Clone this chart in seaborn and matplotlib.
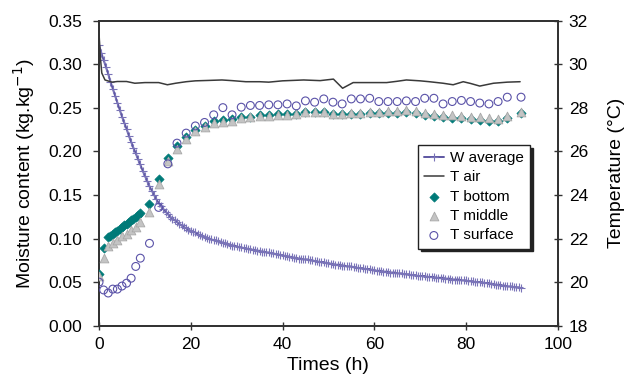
import numpy as np
import pandas as pd
import matplotlib
matplotlib.use("Agg")
import matplotlib.pyplot as plt
import seaborn as sns

sns.set_style("ticks")
plt.rcParams['font.family'] = ['Liberation Sans', 'DejaVu Sans']
plt.rcParams['text.color'] = 'black'
plt.rcParams['axes.labelcolor'] = 'black'
plt.rcParams['xtick.color'] = '#333333'
plt.rcParams['ytick.color'] = '#333333'
plt.rcParams['xtick.labelcolor'] = 'black'
plt.rcParams['ytick.labelcolor'] = 'black'

# ---------------- data ----------------
# average moisture content, every 0.5 h from 0 to 92 h
w_time = np.arange(0, 92.5, 0.5)
w_average = [
    0.322, 0.313, 0.305, 0.297, 0.289, 0.280, 0.272, 0.264, 0.256, 0.248,
    0.240, 0.233, 0.226, 0.218, 0.211, 0.204, 0.198, 0.191, 0.185, 0.178,
    0.172, 0.166, 0.160, 0.155, 0.150, 0.145, 0.141, 0.137, 0.134, 0.131,
    0.128, 0.125, 0.123, 0.121, 0.119, 0.117, 0.115, 0.113, 0.112, 0.110,
    0.109, 0.108, 0.107, 0.105, 0.104, 0.103, 0.102, 0.101, 0.100, 0.099,
    0.098, 0.098, 0.097, 0.096, 0.095, 0.095, 0.094, 0.093, 0.092, 0.092,
    0.091, 0.090, 0.090, 0.089, 0.089, 0.088, 0.088, 0.087, 0.087, 0.086,
    0.086, 0.085, 0.085, 0.084, 0.084, 0.083, 0.083, 0.082, 0.082, 0.081,
    0.081, 0.080, 0.080, 0.079, 0.079, 0.078, 0.078, 0.077, 0.077, 0.076,
    0.076, 0.076, 0.075, 0.075, 0.074, 0.074, 0.073, 0.073, 0.073, 0.072,
    0.072, 0.071, 0.071, 0.070, 0.070, 0.070, 0.069, 0.069, 0.068, 0.068,
    0.068, 0.067, 0.067, 0.066, 0.066, 0.066, 0.065, 0.065, 0.065, 0.064,
    0.064, 0.063, 0.063, 0.063, 0.062, 0.062, 0.062, 0.061, 0.061, 0.061,
    0.060, 0.060, 0.060, 0.059, 0.059, 0.059, 0.058, 0.058, 0.058, 0.057,
    0.057, 0.057, 0.057, 0.056, 0.056, 0.056, 0.056, 0.055, 0.055, 0.055,
    0.055, 0.054, 0.054, 0.054, 0.053, 0.053, 0.053, 0.053, 0.052, 0.052,
    0.052, 0.051, 0.051, 0.051, 0.050, 0.050, 0.050, 0.050, 0.049, 0.049,
    0.049, 0.048, 0.048, 0.047, 0.047, 0.047, 0.046, 0.046, 0.045, 0.045,
    0.045, 0.044, 0.044, 0.044, 0.043,
]

# air temperature
air_time = [0, 0.3, 0.6, 1.3, 2.8, 4, 6, 7.8, 10, 13, 14.9, 16.7, 19, 21, 24,
            26.8, 29, 32, 35, 37, 40, 44.6, 48.2, 51.1, 53.1, 55.4, 59, 62.7,
            65, 67, 70, 72, 75, 77.2, 79.4, 81, 83, 86, 89, 91.8]
t_air = [31.4, 30.3, 29.6, 29.28, 29.18, 29.21, 29.21, 29.13, 29.16, 29.16,
         29.06, 29.13, 29.2, 29.24, 29.26, 29.28, 29.25, 29.2, 29.2, 29.18,
         29.24, 29.28, 29.25, 29.32, 28.9, 29.16, 29.16, 29.16, 29.22, 29.28,
         29.24, 29.2, 29.13, 29.06, 29.2, 29.12, 29.0, 29.13, 29.18, 29.2]

# sample temperatures
late_time = [11, 13, 15, 17, 19, 21, 23, 25, 27, 29, 31, 33, 35, 37, 39, 41,
             43, 45, 47, 49, 51, 53, 55, 57, 59, 61, 63, 65, 67, 69, 71, 73,
             75, 77, 79, 81, 83, 85, 87, 89, 92]
bottom_time = [0, 1, 2, 2.5, 3, 3.5, 4, 4.5, 5, 5.5, 6, 6.5, 7, 7.5, 8, 8.5, 9] + late_time
t_bottom = [20.39, 21.56, 22.05, 22.12, 22.20, 22.28, 22.35, 22.44, 22.52, 22.60,
            22.67, 22.76, 22.84, 22.92, 23.00, 23.09, 23.17,
            23.58, 24.73, 25.72, 26.25, 26.65, 27.00, 27.18, 27.38, 27.42, 27.47,
            27.58, 27.60, 27.66, 27.66, 27.70, 27.70, 27.73, 27.82, 27.82, 27.80,
            27.70, 27.70, 27.72, 27.74, 27.75, 27.76, 27.77, 27.78, 27.80, 27.75,
            27.68, 27.62, 27.58, 27.55, 27.52, 27.48, 27.44, 27.40, 27.38, 27.52,
            27.75]
middle_time = [0, 1, 2, 3, 4, 5, 6, 7, 8, 9] + late_time
t_middle = [20.29, 21.13, 21.64, 21.80, 21.94, 22.10, 22.22, 22.38, 22.55, 22.74,
            23.20, 24.50, 25.55, 26.11, 26.56, 26.94, 27.11, 27.30, 27.34, 27.40,
            27.53, 27.56, 27.63, 27.63, 27.68, 27.68, 27.72, 27.83, 27.83, 27.83,
            27.72, 27.72, 27.75, 27.78, 27.80, 27.82, 27.84, 27.86, 27.88, 27.84,
            27.78, 27.72, 27.69, 27.66, 27.63, 27.60, 27.56, 27.52, 27.48, 27.63,
            27.83]
surface_time = [0, 1, 2, 3, 4, 5, 6, 7, 8, 9] + late_time
t_surface = [20.00, 19.64, 19.50, 19.68, 19.68, 19.82, 19.95, 20.18, 20.72, 21.10,
             21.78, 23.43, 25.43, 26.38, 26.84, 27.17, 27.33, 27.68, 28.01, 27.68,
             28.03, 28.11, 28.11, 28.14, 28.14, 28.18, 28.09, 28.32, 28.26, 28.41,
             28.26, 28.18, 28.41, 28.41, 28.44, 28.29, 28.29, 28.29, 28.32, 28.29,
             28.44, 28.44, 28.18, 28.29, 28.34, 28.29, 28.22, 28.18, 28.29, 28.49,
             28.49]

x_ticks = [0, 20, 40, 60, 80, 100]
w_ticks = [0.00, 0.05, 0.10, 0.15, 0.20, 0.25, 0.30, 0.35]
temp_ticks = [18, 20, 22, 24, 26, 28, 30, 32]

# ---------------- figure ----------------
fig = plt.figure(figsize=(6.24, 3.88), dpi=100)
ax = fig.add_axes([0.1587, 0.1606, 0.7351, 0.786])
ax2 = ax.twinx()

purple = '#5d56a2'
teal = '#007a78'
dark = '#3a3a3a'

sns.lineplot(x=w_time, y=w_average, ax=ax, color=purple, lw=1.4,
             marker='+', markersize=6, markeredgewidth=0.8,
             markeredgecolor='#7a74b8', label='W average', legend=False)

sns.lineplot(x=air_time, y=t_air, ax=ax2, color=dark, lw=1.1,
             label='T air', legend=False)
sns.scatterplot(x=bottom_time, y=t_bottom, ax=ax2, marker='D', s=22,
                color=teal, edgecolor=teal, linewidth=0.5, label='T bottom',
                legend=False, zorder=3)
sns.scatterplot(x=middle_time, y=t_middle, ax=ax2, marker='^', s=40,
                color='#c4c4c4', edgecolor='#a8a8a8', linewidth=0.6,
                label='T middle', legend=False, zorder=4)
sns.scatterplot(x=surface_time, y=t_surface, ax=ax2, marker='o', s=32,
                facecolor='none', edgecolor='#5a52a8', linewidth=0.8,
                label='T surface', legend=False, zorder=5)

ax.set_xlim(0, 100)
ax.set_ylim(0, 0.35)
ax2.set_ylim(18, 32)
ax.set_xticks(x_ticks)
ax.set_yticks(w_ticks)
ax.set_yticklabels([f"{v:.2f}" for v in w_ticks])
ax2.set_yticks(temp_ticks)

for a in (ax, ax2):
    for sp in a.spines.values():
        sp.set_visible(True)
        sp.set_color('#333333')
        sp.set_linewidth(1.3)

ax.tick_params(axis='y', direction='out', length=4, width=1,
               labelsize=12.5, pad=8)
ax.tick_params(axis='x', direction='inout', length=6, width=1,
               labelsize=12.5, pad=5)
ax2.tick_params(axis='y', direction='inout', length=6, width=1,
                labelsize=12.5, pad=5)

ax.set_xlabel('Times (h)', fontsize=14, labelpad=4)
ax.set_ylabel('Moisture content (kg.kg$^{-1}$)', fontsize=14, labelpad=8)
ax2.set_ylabel('Temperature (°C)', fontsize=14, labelpad=14)

h1, l1 = ax.get_legend_handles_labels()
h2, l2 = ax2.get_legend_handles_labels()
leg = ax2.legend(h1 + h2, l1 + l2, loc='upper left',
                 bbox_to_anchor=(0.695, 0.5925), borderaxespad=0,
                 fontsize=11, frameon=True, fancybox=False,
                 shadow={'facecolor': '#222222', 'edgecolor': '#222222', 'alpha': 1},
                 handlelength=1.3, handletextpad=0.4, labelspacing=0.35,
                 borderpad=0.4, edgecolor='#222222')
leg.get_frame().set_linewidth(1.0)

fig.savefig('out.png', dpi=100)
